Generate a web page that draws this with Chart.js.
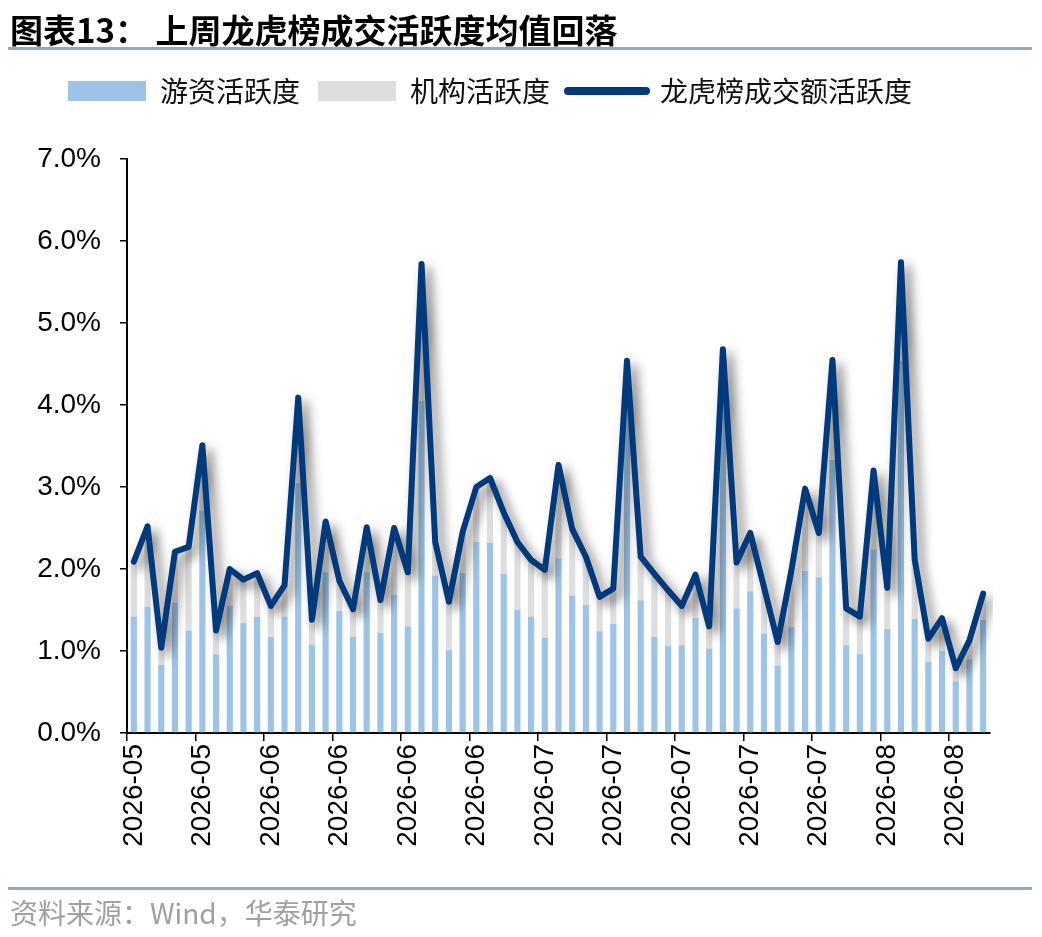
<!DOCTYPE html>
<html>
<head>
<meta charset="utf-8">
<script src="https://cdn.jsdelivr.net/npm/chart.js@4.4.1/dist/chart.umd.min.js"></script>
<style>
html,body{margin:0;padding:0;background:#fff;}
body{width:1042px;height:937px;position:relative;overflow:hidden;}
#c{position:absolute;left:0;top:0;}
#title{position:absolute;left:10px;top:9px;font-family:"Noto Sans CJK SC";font-weight:700;font-size:33px;line-height:40px;color:#000;white-space:nowrap;}
#rule1{position:absolute;left:8px;top:47px;width:1024px;height:3px;background:#8fa9c9;}
#rule2{position:absolute;left:8px;top:887px;width:1024px;height:3px;background:#8fa9c9;}
#src{position:absolute;left:10px;top:894px;font-family:"Noto Sans CJK SC";font-size:28px;line-height:36px;color:#a0a0a0;white-space:nowrap;}
</style>
</head>
<body>
<canvas id="c" width="1042" height="937"></canvas>
<div id="title">图表13：&nbsp;上周龙虎榜成交活跃度均值回落</div>
<div id="rule1"></div>
<div id="rule2"></div>
<div id="src">资料来源：Wind，华泰研究</div>
<script>
// ---- data ----
const categories = [
 '2026-05','2026-05','2026-05','2026-05','2026-05','2026-05','2026-05','2026-05','2026-05',
 '2026-06','2026-06','2026-06','2026-06','2026-06','2026-06','2026-06','2026-06','2026-06','2026-06',
 '2026-06','2026-06','2026-06','2026-06','2026-06','2026-06','2026-06','2026-06','2026-06','2026-06','2026-06',
 '2026-07','2026-07','2026-07','2026-07','2026-07','2026-07','2026-07','2026-07','2026-07','2026-07',
 '2026-07','2026-07','2026-07','2026-07','2026-07','2026-07','2026-07','2026-07','2026-07','2026-07',
 '2026-07','2026-07','2026-07',
 '2026-08','2026-08','2026-08','2026-08','2026-08','2026-08','2026-08','2026-08','2026-08','2026-08'
];
const youziActivity = [
 1.42,1.54,0.83,1.59,1.25,2.71,0.96,1.55,1.34,1.42,
 1.17,1.42,3.05,1.08,1.96,1.49,1.17,1.96,1.22,1.69,
 1.30,4.05,1.92,1.01,1.95,2.33,2.32,1.94,1.50,1.42,
 1.16,2.13,1.67,1.56,1.24,1.33,3.97,1.62,1.17,1.06,
 1.07,1.40,1.03,4.05,1.52,1.73,1.21,0.82,1.29,1.98,
 1.90,3.33,1.07,0.96,2.24,1.27,4.54,1.39,0.87,1.00,
 0.63,0.90,1.38
];
const jigouActivity = [
 0.67,0.98,0.21,0.62,1.02,0.80,0.29,0.45,0.53,0.53,
 0.38,0.38,1.04,0.30,0.62,0.37,0.34,0.55,0.40,0.81,
 0.66,1.67,0.41,0.59,0.50,0.67,0.79,0.75,0.83,0.69,
 0.83,1.14,0.82,0.59,0.42,0.43,0.57,0.53,0.77,0.68,
 0.48,0.53,0.27,0.63,0.56,0.71,0.57,0.29,0.69,1.00,
 0.54,1.22,0.45,0.46,0.96,0.50,1.20,0.73,0.28,0.40,
 0.16,0.23,0.32
];
const lhbActivity = [
 2.09,2.52,1.04,2.21,2.27,3.51,1.25,2.00,1.87,1.95,
 1.55,1.80,4.09,1.38,2.58,1.86,1.51,2.51,1.62,2.50,
 1.96,5.72,2.33,1.60,2.45,3.00,3.11,2.69,2.33,2.11,
 1.99,3.27,2.49,2.15,1.66,1.76,4.54,2.15,1.94,1.74,
 1.55,1.93,1.30,4.68,2.08,2.44,1.78,1.11,1.98,2.98,
 2.44,4.55,1.52,1.42,3.20,1.77,5.74,2.12,1.15,1.40,
 0.79,1.13,1.70
];
const yTicks = [0,1,2,3,4,5,6,7];
const labelEvery = 5;

// ---- plugins ----
const lineShadow = {
  id:'lineShadow',
  beforeDatasetDraw(chart,args){
    if(chart.data.datasets[args.index].type==='line'){
      const c=chart.ctx; c.save();
      c.shadowColor='rgba(0,0,0,0.55)'; c.shadowBlur=11; c.shadowOffsetX=6; c.shadowOffsetY=6;
    }
  },
  afterDatasetDraw(chart,args){
    if(chart.data.datasets[args.index].type==='line'){ chart.ctx.restore(); }
  }
};
const legendSpace = {
  id:'legendSpace',
  beforeLayout(chart){
    const lg=chart.legend;
    if(lg && !lg._patched){
      const f=lg.fit.bind(lg);
      lg.fit=function(){ f(); this.height+=44; };
      lg._patched=true;
    }
  },
  afterLayout(chart){
    const lg=chart.legend;
    if(lg){ lg.left+=20; lg.right+=20; }
  }
};

const tickFont = {family:'Liberation Sans', size:28};

new Chart(document.getElementById('c'), {
  data:{
    labels:categories,
    datasets:[
      {type:'bar',label:'游资活跃度',data:youziActivity,backgroundColor:'#9dc3e6',
       barPercentage:0.45,categoryPercentage:1,stack:'bars',order:1},
      {type:'bar',label:'机构活跃度',data:jigouActivity,backgroundColor:'#dedede',
       barPercentage:0.45,categoryPercentage:1,stack:'bars',order:1},
      {type:'line',label:'龙虎榜成交额活跃度',data:lhbActivity,borderColor:'#003a7c',backgroundColor:'#003a7c',
       borderWidth:6,pointRadius:0,tension:0,borderJoinStyle:'round',borderCapStyle:'round',stack:'line',order:0}
    ]
  },
  options:{
    responsive:false, animation:false, devicePixelRatio:1,
    layout:{padding:{left:30,top:59,right:52,bottom:74}},
    plugins:{
      tooltip:{enabled:false},
      legend:{
        position:'top', align:'start',
        labels:{
          usePointStyle:true, pointStyleWidth:78, boxWidth:78, boxHeight:20, padding:18, color:'#111',
          font:{family:'Noto Sans CJK SC', size:28},
          sort:(a,b)=>a.datasetIndex-b.datasetIndex,
          generateLabels(chart){
            const items = Chart.defaults.plugins.legend.labels.generateLabels(chart);
            items.forEach(it=>{
              const ds = chart.data.datasets[it.datasetIndex];
              if(ds.type==='line'){ it.pointStyle='line'; it.lineWidth=8; it.lineCap='round'; it.strokeStyle=ds.borderColor; }
              else { it.pointStyle='rect'; it.lineWidth=0; }
            });
            return items;
          }
        }
      }
    },
    scales:{
      x:{
        stacked:true, offset:true,
        grid:{display:true, offset:true, drawOnChartArea:false, drawTicks:true, tickLength:8, lineWidth:1.5,
              color:(ctx)=> (ctx.index!==undefined && ctx.index%labelEvery===0) ? '#000' : 'rgba(0,0,0,0)'},
        border:{display:true,color:'#000',width:2},
        ticks:{autoSkip:false, maxRotation:90, minRotation:90, padding:3, color:'#000', font:tickFont,
               callback:(v,i)=> i%labelEvery===0 ? categories[i] : ''},
        afterFit(s){ s.height=130; }
      },
      y:{
        stacked:true, min:yTicks[0], max:yTicks[yTicks.length-1],
        afterBuildTicks(s){ s.ticks = yTicks.map(v=>({value:v})); },
        grid:{drawOnChartArea:false, drawTicks:true, tickLength:7, lineWidth:1.5, color:'#000'},
        border:{display:true,color:'#000',width:2},
        ticks:{color:'#000', font:tickFont, padding:19, callback:v=>Number(v).toFixed(1)+'%'},
        afterFit(s){ s.width=97; }
      }
    }
  },
  plugins:[lineShadow, legendSpace]
});
</script>
</body>
</html>
